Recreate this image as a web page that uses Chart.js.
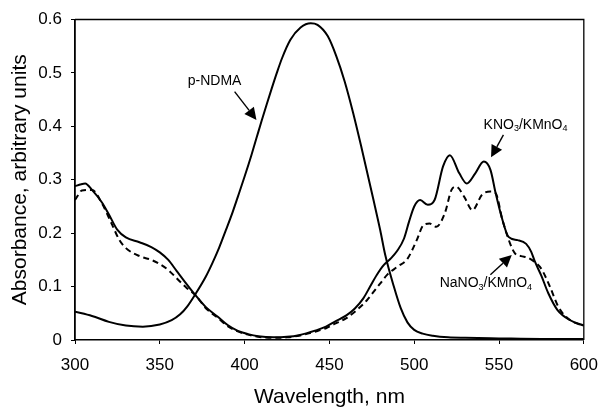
<!DOCTYPE html>
<html>
<head>
<meta charset="utf-8">
<title>Absorbance spectra</title>
<script src="https://cdn.jsdelivr.net/npm/chart.js@4.4.0/dist/chart.umd.min.js"></script>
<style>
  html, body { margin: 0; padding: 0; background: #fff; }
  #wrap { width: 609px; height: 408px; }
</style>
</head>
<body>
<div id="wrap"><canvas id="chart" width="609" height="408"></canvas></div>
<script>
// values
const ndmaWl = [300, 310, 320, 330, 340, 350, 357, 362, 366, 371, 377, 381, 385, 389, 393, 396, 400, 404, 407, 410, 413, 416, 419, 422, 427, 433, 439, 443, 449, 454, 459, 464, 469, 476, 480, 483, 488, 492, 496, 500, 505, 511, 520, 530, 550, 575, 600];
const ndmaAbs = [0.053, 0.045, 0.034, 0.027, 0.025, 0.029, 0.037, 0.048, 0.062, 0.086, 0.118, 0.144, 0.173, 0.206, 0.240, 0.268, 0.306, 0.346, 0.378, 0.410, 0.441, 0.471, 0.500, 0.527, 0.562, 0.585, 0.593, 0.590, 0.569, 0.532, 0.484, 0.425, 0.359, 0.262, 0.205, 0.158, 0.100, 0.060, 0.033, 0.019, 0.012, 0.008, 0.005, 0.004, 0.003, 0.002, 0.002];

const kno3Wl = [300, 303, 306, 310, 316, 320, 325, 330, 338, 345, 350, 355, 360, 365, 371, 377, 384, 390, 396, 402, 408, 417, 425, 432, 442, 448, 453, 460, 465, 470, 474, 478, 482, 486, 490, 494, 497, 500, 503.5, 508, 512, 517, 521, 526.6, 531, 536, 541, 545, 548, 552, 555.6, 561, 566, 569, 571, 575, 579, 584.5, 592, 600];
const kno3Abs = [0.288, 0.291, 0.293, 0.281, 0.257, 0.235, 0.206, 0.192, 0.183, 0.174, 0.164, 0.150, 0.129, 0.108, 0.084, 0.062, 0.044, 0.028, 0.017, 0.011, 0.007, 0.005, 0.006, 0.009, 0.018, 0.025, 0.034, 0.046, 0.059, 0.078, 0.100, 0.122, 0.140, 0.152, 0.167, 0.190, 0.222, 0.250, 0.262, 0.253, 0.262, 0.325, 0.346, 0.312, 0.293, 0.312, 0.334, 0.318, 0.275, 0.225, 0.193, 0.187, 0.180, 0.165, 0.148, 0.120, 0.088, 0.056, 0.037, 0.027];

const nano3Wl = [300, 302, 304, 310, 316, 322, 326, 330, 338, 345, 350, 355, 362, 366, 371, 377, 384, 390, 396, 402, 408, 417, 425, 432, 442, 448, 453, 460, 465, 472, 476.5, 480, 484, 490, 496, 501.5, 505.4, 509, 513, 518, 522, 524.7, 529.5, 534.3, 540, 545, 548, 552, 556.5, 559.4, 563, 567, 571, 575, 580, 585, 590, 595, 600];
const nano3Abs = [0.262, 0.272, 0.280, 0.281, 0.255, 0.215, 0.188, 0.172, 0.157, 0.150, 0.142, 0.131, 0.109, 0.097, 0.084, 0.060, 0.042, 0.026, 0.016, 0.010, 0.006, 0.004, 0.005, 0.008, 0.016, 0.022, 0.030, 0.041, 0.053, 0.074, 0.092, 0.106, 0.122, 0.137, 0.152, 0.187, 0.215, 0.218, 0.212, 0.237, 0.281, 0.287, 0.268, 0.243, 0.272, 0.278, 0.275, 0.225, 0.181, 0.162, 0.157, 0.154, 0.146, 0.133, 0.100, 0.062, 0.042, 0.032, 0.027];

const xTicks = [300, 350, 400, 450, 500, 550, 600];
const yTicks = [0, 0.1, 0.2, 0.3, 0.4, 0.5, 0.6];

const FONT = "'Liberation Sans', Arial, sans-serif";

function pairs(xs, ys) {
    return xs.map((x, i) => ({ x: x, y: ys[i] }));
}

// arrow + label annotations, anchored in data units
const notes = [
    { parts: [['p-NDMA', 0]], tx: 366.5, ty: 0.484, from: [394.1, 0.465], to: [407, 0.412] },
    { parts: [['KNO', 0], ['3', 1], ['/KMnO', 0], ['4', 1]], tx: 540.9, ty: 0.403, from: [552.6, 0.384], to: [545.3, 0.342] },
    { parts: [['NaNO', 0], ['3', 1], ['/KMnO', 0], ['4', 1]], tx: 515, ty: 0.106, from: [544.9, 0.122], to: [557.5, 0.159] }
];

const frame = {
    id: 'frame',
    afterDatasetsDraw(chart) {
        const { ctx, chartArea: a } = chart;
        ctx.save();
        ctx.strokeStyle = '#000';
        ctx.lineWidth = 1.3;
        ctx.beginPath();
        ctx.moveTo(a.left, a.top);
        ctx.lineTo(a.right, a.top);
        ctx.lineTo(a.right, a.bottom);
        ctx.stroke();
        ctx.restore();
    }
};

const annotate = {
    id: 'annotate',
    afterDraw(chart) {
        const ctx = chart.ctx;
        const xs = chart.scales.x, ys = chart.scales.y;
        ctx.save();
        ctx.fillStyle = '#000';
        ctx.strokeStyle = '#000';
        notes.forEach(n => {
            let px = xs.getPixelForValue(n.tx);
            const py = ys.getPixelForValue(n.ty);
            ctx.textBaseline = 'middle';
            n.parts.forEach(p => {
                if (p[1]) {
                    ctx.font = '9px ' + FONT;
                    ctx.fillText(p[0], px, py + 4);
                } else {
                    ctx.font = '14px ' + FONT;
                    ctx.fillText(p[0], px, py);
                }
                px += ctx.measureText(p[0]).width;
            });
            const x1 = xs.getPixelForValue(n.from[0]), y1 = ys.getPixelForValue(n.from[1]);
            const x2 = xs.getPixelForValue(n.to[0]), y2 = ys.getPixelForValue(n.to[1]);
            const ang = Math.atan2(y2 - y1, x2 - x1);
            const hl = 12, hw = 6;
            const bx = x2 - hl * Math.cos(ang), by = y2 - hl * Math.sin(ang);
            ctx.lineWidth = 1.4;
            ctx.beginPath();
            ctx.moveTo(x1, y1);
            ctx.lineTo(bx, by);
            ctx.stroke();
            ctx.beginPath();
            ctx.moveTo(x2, y2);
            ctx.lineTo(bx + hw * Math.sin(ang), by - hw * Math.cos(ang));
            ctx.lineTo(bx - hw * Math.sin(ang), by + hw * Math.cos(ang));
            ctx.closePath();
            ctx.fill();
        });
        ctx.restore();
    }
};

const lineStyle = {
    borderColor: '#000',
    borderWidth: 2,
    pointRadius: 0,
    fill: false,
    cubicInterpolationMode: 'monotone'
};

const ctx = document.getElementById('chart').getContext('2d');
const chart = new Chart(ctx, {
    type: 'line',
    data: {
        datasets: [
            Object.assign({ label: 'p-NDMA', data: pairs(ndmaWl, ndmaAbs) }, lineStyle),
            Object.assign({ label: 'KNO3/KMnO4', data: pairs(kno3Wl, kno3Abs) }, lineStyle),
            Object.assign({ label: 'NaNO3/KMnO4', data: pairs(nano3Wl, nano3Abs), borderDash: [6, 4] }, lineStyle)
        ]
    },
    options: {
        responsive: false,
        animation: false,
        layout: { padding: { top: 19.5, right: 16, left: 0, bottom: 0 } },
        plugins: {
            legend: { display: false },
            tooltip: { enabled: false }
        },
        scales: {
            x: {
                type: 'linear',
                min: 300,
                max: 600,
                afterBuildTicks: s => { s.ticks = xTicks.map(v => ({ value: v })); },
                afterFit: s => { s.height = 68; },
                ticks: {
                    color: '#000',
                    font: { family: FONT, size: 17 },
                    padding: 11,
                    maxRotation: 0
                },
                grid: { drawOnChartArea: false, drawTicks: true, tickLength: 4, color: '#000', lineWidth: 1 },
                border: { color: '#000', width: 1.5 },
                title: {
                    display: true,
                    text: 'Wavelength, nm',
                    color: '#000',
                    font: { family: FONT, size: 21, lineHeight: 1 },
                    padding: 0
                }
            },
            y: {
                min: 0,
                max: 0.6,
                afterBuildTicks: s => { s.ticks = yTicks.map(v => ({ value: v })); },
                afterFit: s => { s.width = 75; },
                ticks: {
                    color: '#000',
                    font: { family: FONT, size: 17 },
                    padding: 9,
                    callback: v => v === 0 ? '0' : v.toFixed(1)
                },
                grid: { drawOnChartArea: false, drawTicks: true, tickLength: 4, color: '#000', lineWidth: 1 },
                border: { color: '#000', width: 1.8 },
                title: {
                    display: true,
                    text: 'Absorbance, arbitrary units',
                    color: '#000',
                    font: { family: FONT, size: 21, lineHeight: 1 },
                    padding: { top: 9.5, bottom: 0 }
                }
            }
        }
    },
    plugins: [frame, annotate]
});
</script>
</body>
</html>
